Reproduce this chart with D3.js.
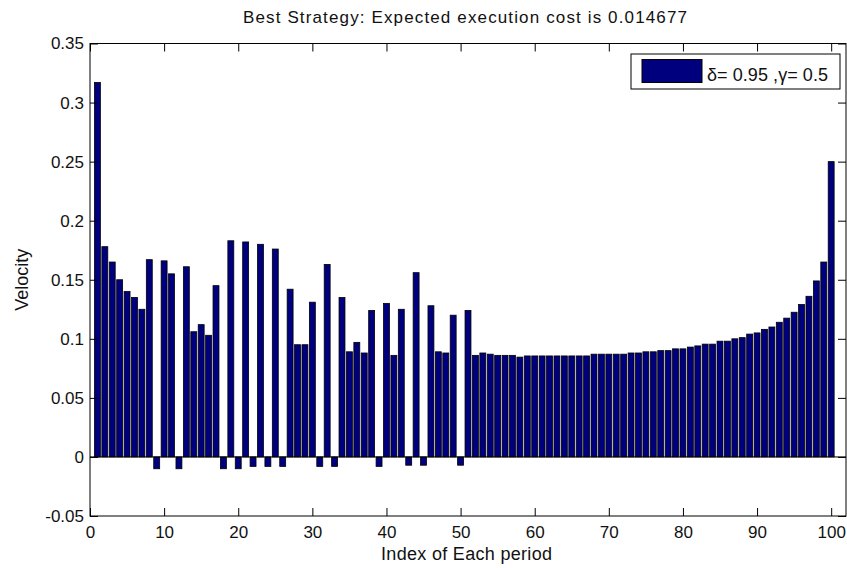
<!DOCTYPE html>
<html>
<head>
<meta charset="utf-8">
<script src="https://cdn.jsdelivr.net/npm/d3@7"></script>
<style>
  html, body { margin: 0; padding: 0; background: #fff; }
  svg { display: block; font-family: "Liberation Sans", Arial, sans-serif; }
  .tick line { stroke: #000; }
  .tick text { fill: #111; font-size: 17px; }
</style>
</head>
<body>
<svg id="chart" width="847" height="568"></svg>
<script>
// Velocity per trading period for the optimal strategy
const periods = d3.range(1, 101);
const velocity = [
  0.317, 0.178, 0.165, 0.150, 0.140, 0.135, 0.125, 0.167, -0.010, 0.166,
  0.155, -0.010, 0.161, 0.106, 0.112, 0.103, 0.145, -0.010, 0.183, -0.010,
  0.182, -0.008, 0.180, -0.008, 0.176, -0.008, 0.142, 0.095, 0.095, 0.131,
  -0.008, 0.163, -0.008, 0.135, 0.089, 0.097, 0.088, 0.124, -0.008, 0.130,
  0.086, 0.125, -0.007, 0.156, -0.007, 0.128, 0.089, 0.088, 0.120, -0.007,
  0.124, 0.086, 0.088, 0.087, 0.086, 0.086, 0.086, 0.0845, 0.0855, 0.0855,
  0.0855, 0.0855, 0.0855, 0.0855, 0.0855, 0.0855, 0.0855, 0.087, 0.087, 0.087,
  0.087, 0.087, 0.088, 0.088, 0.089, 0.089, 0.090, 0.090, 0.0915, 0.0915,
  0.093, 0.094, 0.0955, 0.0955, 0.098, 0.098, 0.100, 0.101, 0.104, 0.105,
  0.108, 0.110, 0.114, 0.1175, 0.1225, 0.129, 0.136, 0.149, 0.165, 0.250
];

const xTicks = [0, 10, 20, 30, 40, 50, 60, 70, 80, 90, 100];
const yTicks = [-0.05, 0, 0.05, 0.1, 0.15, 0.2, 0.25, 0.3, 0.35];
const yTickLabels = ["-0.05", "0", "0.05", "0.1", "0.15", "0.2", "0.25", "0.3", "0.35"];

const titleText = "Best Strategy: Expected execution cost is 0.014677";
const xLabel = "Index of Each period";
const yLabel = "Velocity";
const legendLabel = "δ= 0.95 ,γ= 0.5";

const barFill = "#00007f";
const barEdge = "#000000";

const svg = d3.select("#chart");
const plot = { left: 90, right: 846, top: 43.5, bottom: 516 };

const x = d3.scaleLinear().domain([0, 102]).range([plot.left, plot.right]);
const y = d3.scaleLinear().domain([-0.05, 0.35]).range([plot.bottom, plot.top]);
const barW = x(0.8) - x(0);

// bars
svg.append("g")
  .selectAll("rect")
  .data(periods)
  .join("rect")
  .attr("x", (d) => x(d) - barW / 2)
  .attr("y", (d, i) => y(Math.max(0, velocity[i])))
  .attr("width", barW)
  .attr("height", (d, i) => Math.abs(y(velocity[i]) - y(0)))
  .attr("fill", barFill)
  .attr("stroke", barEdge)
  .attr("stroke-width", 0.8);

// baseline at zero
svg.append("line")
  .attr("x1", x(0)).attr("x2", x(102))
  .attr("y1", y(0)).attr("y2", y(0))
  .attr("stroke", "#000").attr("stroke-width", 1);

// axes with inward ticks on all four sides
const axB = svg.append("g").attr("transform", `translate(0,${plot.bottom})`)
  .call(d3.axisBottom(x).tickValues(xTicks).tickSizeInner(-8).tickSizeOuter(0).tickPadding(10).tickFormat(d3.format("d")));
const axT = svg.append("g").attr("transform", `translate(0,${plot.top})`)
  .call(d3.axisTop(x).tickValues(xTicks).tickSizeInner(-8).tickSizeOuter(0).tickFormat(""));
const axL = svg.append("g").attr("transform", `translate(${plot.left},0)`)
  .call(d3.axisLeft(y).tickValues(yTicks).tickSizeInner(-8).tickSizeOuter(0).tickPadding(6)
    .tickFormat((d, i) => yTickLabels[i]));
const axR = svg.append("g").attr("transform", `translate(${plot.right},0)`)
  .call(d3.axisRight(y).tickValues(yTicks).tickSizeInner(-8).tickSizeOuter(0).tickFormat(""));
[axB, axT, axL, axR].forEach((g) => {
  g.select(".domain").remove();
  g.attr("font-family", null).attr("font-size", null);
});

// frame
svg.append("rect")
  .attr("x", plot.left).attr("y", plot.top)
  .attr("width", plot.right - plot.left).attr("height", plot.bottom - plot.top)
  .attr("fill", "none").attr("stroke", "#000").attr("stroke-width", 1);

// title and axis labels
svg.append("text")
  .attr("x", 243).attr("y", 23)
  .attr("font-size", 17).attr("fill", "#111")
  .attr("textLength", 444).attr("lengthAdjust", "spacing")
  .text(titleText);

svg.append("text")
  .attr("x", 381).attr("y", 560)
  .attr("font-size", 18).attr("fill", "#111")
  .attr("textLength", 171).attr("lengthAdjust", "spacing")
  .text(xLabel);

svg.append("text")
  .attr("transform", `translate(28,${(plot.top + plot.bottom) / 2}) rotate(-90)`)
  .attr("text-anchor", "middle").attr("font-size", 18).attr("fill", "#111")
  .text(yLabel);

// legend
const lg = svg.append("g");
lg.append("rect")
  .attr("x", 631).attr("y", 54).attr("width", 209).attr("height", 35)
  .attr("fill", "#fff").attr("stroke", "#000").attr("stroke-width", 1);
lg.append("rect")
  .attr("x", 642).attr("y", 59.5).attr("width", 60).attr("height", 23)
  .attr("fill", barFill).attr("stroke", barEdge).attr("stroke-width", 1);
lg.append("text")
  .attr("x", 707).attr("y", 81).attr("font-size", 18).attr("fill", "#111")
  .attr("textLength", 121).attr("lengthAdjust", "spacing")
  .text(legendLabel);
</script>
</body>
</html>
